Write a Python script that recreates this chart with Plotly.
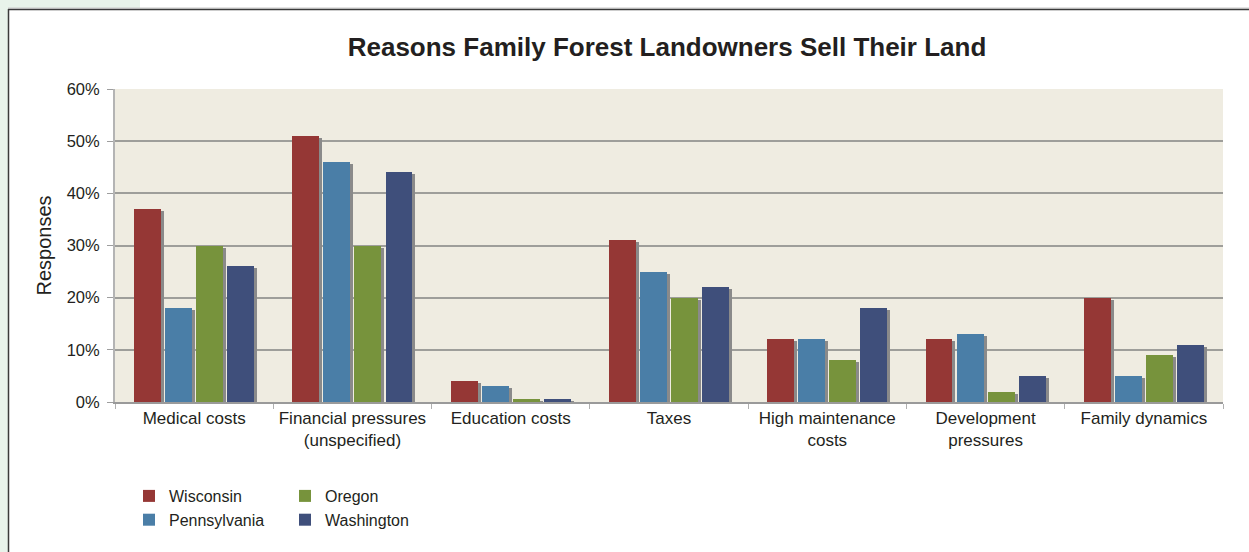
import plotly.graph_objects as go

categories = ["Medical costs", "Financial pressures<br>(unspecified)", "Education costs",
              "Taxes", "High maintenance<br>costs", "Development<br>pressures", "Family dynamics"]
series_names = ["Wisconsin", "Pennsylvania", "Oregon", "Washington"]
wisconsin = [37, 51, 4, 31, 12, 12, 20]
pennsylvania = [18, 46, 3, 25, 12, 13, 5]
oregon = [30, 30, 0.5, 20, 8, 2, 9]
washington = [26, 44, 0.5, 22, 18, 5, 11]
series_values = [wisconsin, pennsylvania, oregon, washington]
colors = ["#953735", "#4a7ea7", "#77933c", "#3f4f7b"]
y_ticks = [0, 10, 20, 30, 40, 50, 60]
y_tick_labels = ["0%", "10%", "20%", "30%", "40%", "50%", "60%"]

W, H = 1249, 552
L, R, T, B = 115, 26, 89, 150
plot_w = W - L - R
plot_h = H - T - B

step = 0.196
bw = 0.17
shadow_dx = 3 / (plot_w / 7)
shadow_dy = 2 * 60 / plot_h

font = "Liberation Sans, Arial, Helvetica, sans-serif"
fig = go.Figure()

# shadows
for i, vals in enumerate(series_values):
    off = -2 * step + i * step + (step - bw) / 2
    fig.add_trace(go.Bar(
        x=categories, y=[max(v - shadow_dy, 0.05) for v in vals],
        offset=off + shadow_dx, width=bw,
        marker=dict(color="#8a8a8a", line=dict(width=0)),
        showlegend=False, hoverinfo="skip"))

for i, (name, vals) in enumerate(zip(series_names, series_values)):
    off = -2 * step + i * step + (step - bw) / 2
    fig.add_trace(go.Bar(
        x=categories, y=vals, name=name,
        offset=off, width=bw,
        marker=dict(color=colors[i], line=dict(width=0)),
        legend="legend" if i in (0, 1) else "legend2"))

def px_x(p):
    return (p - L) / plot_w

def px_y(p):
    return (H - B - p) / plot_h

shapes = [
    # light green background strips outside frame
    dict(type="rect", xref="paper", yref="paper", x0=px_x(0), x1=px_x(8), y0=px_y(H), y1=px_y(0),
         fillcolor="#e8f3ea", line=dict(width=0), layer="below"),
    dict(type="rect", xref="paper", yref="paper", x0=px_x(0), x1=px_x(140), y0=px_y(8), y1=px_y(0),
         fillcolor="#e8f3ea", line=dict(width=0), layer="below"),
    # frame lines
    dict(type="line", xref="paper", yref="paper", x0=px_x(8), x1=px_x(W), y0=px_y(8), y1=px_y(8),
         line=dict(color="#c8c8c8", width=1)),
    dict(type="line", xref="paper", yref="paper", x0=px_x(8), x1=px_x(W), y0=px_y(9.5), y1=px_y(9.5),
         line=dict(color="#3a3a3a", width=1.5)),
    dict(type="line", xref="paper", yref="paper", x0=px_x(8.5), x1=px_x(8.5), y0=px_y(9), y1=px_y(H),
         line=dict(color="#3a3a3a", width=1.5)),
]

fig.update_layout(
    width=W, height=H,
    margin=dict(l=L, r=R, t=T, b=B),
    paper_bgcolor="white",
    plot_bgcolor="#efece1",
    barmode="overlay",
    bargap=0,
    font=dict(family=font, color="#231f20"),
    title=dict(text="<b>Reasons Family Forest Landowners Sell Their Land</b>",
               x=px_x(667), xref="paper", xanchor="center",
               y=1 - 47 / H, yref="container", yanchor="middle",
               font=dict(size=26, family=font, color="#231f20")),
    xaxis=dict(
        type="category", categoryorder="array", categoryarray=categories,
        range=[-0.5, 6.5],
        showgrid=False, showline=True, linecolor="#9a9a9a", linewidth=1.5,
        ticks="outside", tickson="boundaries", ticklen=5, tickcolor="#b0b0b0", tickwidth=1,
        tickfont=dict(size=17, family=font, color="#231f20"),
        fixedrange=True,
    ),
    yaxis=dict(
        range=[0, 60], tickvals=y_ticks, ticktext=y_tick_labels,
        showgrid=True, gridcolor="#9e9e9a", gridwidth=1.5,
        showline=True, linecolor="#b4b4b4", linewidth=2,
        ticks="outside", ticklen=6, tickcolor="#9e9e9e", tickwidth=1,
        ticklabelstandoff=4,
        zeroline=False,
        tickfont=dict(size=16.5, family=font, color="#231f20"),
        title=dict(text="Responses", font=dict(size=20, family=font, color="#231f20"), standoff=10),
        fixedrange=True,
    ),
    legend=dict(x=px_x(129), y=px_y(479), xanchor="left", yanchor="top",
                orientation="v", font=dict(size=16, family=font, color="#231f20"),
                bgcolor="rgba(0,0,0,0)", tracegroupgap=0, itemclick=False),
    legend2=dict(x=px_x(285), y=px_y(479), xanchor="left", yanchor="top",
                 orientation="v", font=dict(size=16, family=font, color="#231f20"),
                 bgcolor="rgba(0,0,0,0)", tracegroupgap=0, itemclick=False),
    shapes=shapes,
)

fig.write_html("out.html", config={"displayModeBar": False},
               post_script="document.body.style.margin='0';document.body.style.padding='0';")
